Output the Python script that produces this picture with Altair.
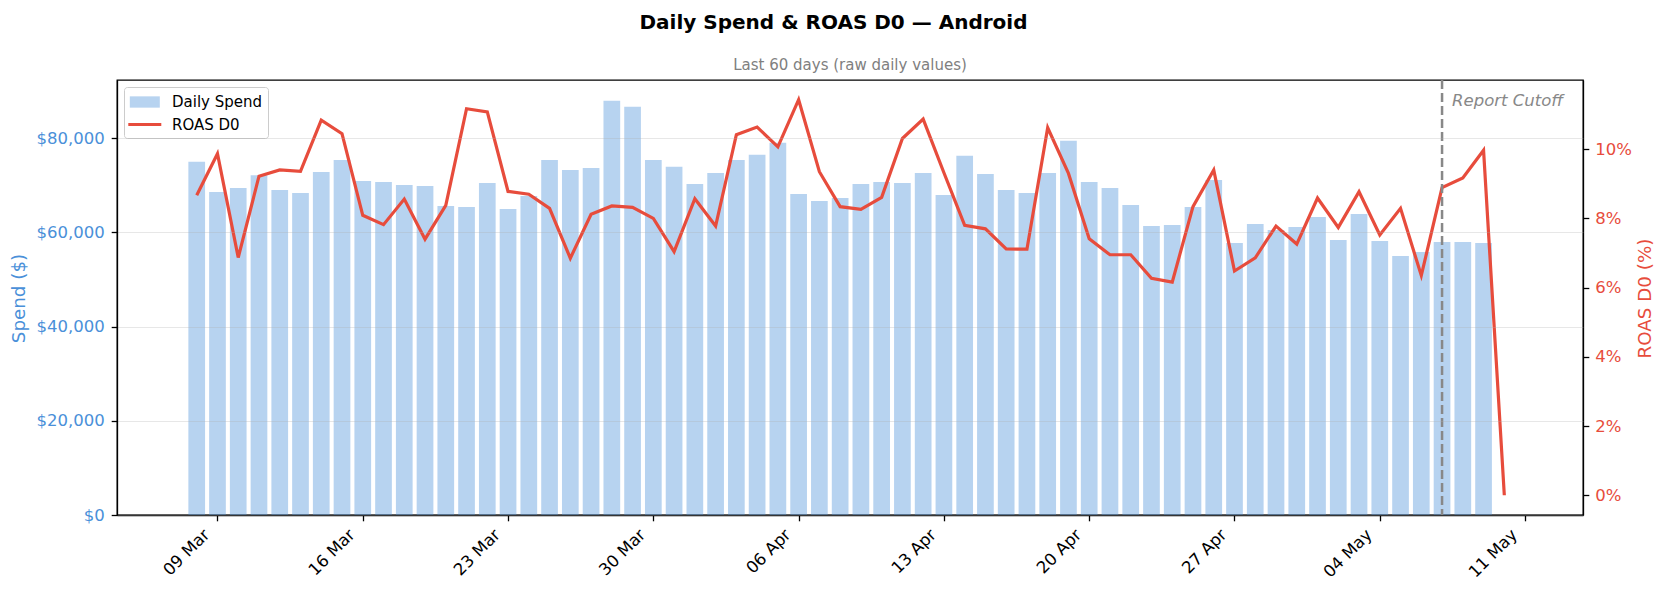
import altair as alt
import pandas as pd

# ---------------- data ----------------
START_DATE = "2025-03-08"
spend = [74960, 68580, 69430, 72130, 69000, 68360, 72830, 75380, 70920, 70700,
         70070, 69850, 65600, 65380, 70490, 64960, 67720, 75380, 73260, 73680,
         87940, 86660, 75380, 73900, 70280, 72620, 75380, 76450, 79000, 68150,
         66660, 67300, 70280, 70700, 70490, 72620, 67940, 76240, 72400, 69000,
         68360, 72620, 79430, 70700, 69430, 65810, 61340, 61550, 65380, 71130,
         57720, 61770, 60490, 61130, 63260, 58360, 63900, 58150, 54960, 55810,
         57940, 57940, 57720]
roas = [8.67, 9.87, 6.87, 9.22, 9.40, 9.36, 10.84, 10.45, 8.09, 7.82,
        8.56, 7.40, 8.38, 11.17, 11.08, 8.78, 8.70, 8.29, 6.85, 8.12,
        8.36, 8.32, 8.00, 7.04, 8.57, 7.78, 10.42, 10.64, 10.07, 11.43,
        9.35, 8.34, 8.26, 8.61, 10.31, 10.87, 9.32, 7.80, 7.70, 7.12,
        7.11, 10.62, 9.30, 7.41, 6.95, 6.95, 6.27, 6.16, 8.34, 9.40,
        6.48, 6.86, 7.78, 7.26, 8.59, 7.74, 8.77, 7.52, 8.29, 6.35,
        8.89, 9.17, 9.97, 0.0]
cutoff_date = ["2025-05-07"]
cutoff_label = ["Report Cutoff"]
series_names = ["Daily Spend", "ROAS D0"]
x_tick_dates = ["2025-03-09", "2025-03-16", "2025-03-23", "2025-03-30", "2025-04-06",
                "2025-04-13", "2025-04-20", "2025-04-27", "2025-05-04", "2025-05-11"]
spend_ticks = [0, 20000, 40000, 60000, 80000]
roas_ticks = [0, 2, 4, 6, 8, 10]

TITLE = "Daily Spend & ROAS D0 \u2014 Android"
SUBTITLE = "Last 60 days (raw daily values)"

BLUE = "#4A90D9"
RED = "#E74C3C"
FONT = "DejaVu Sans"

spend_df = pd.DataFrame({
    "date": pd.date_range(START_DATE, periods=len(spend), freq="D").strftime("%Y-%m-%d"),
    "spend": spend,
})
roas_df = pd.DataFrame({
    "date": pd.date_range(START_DATE, periods=len(roas), freq="D").strftime("%Y-%m-%d"),
    "roas": roas,
})
cut_df = pd.DataFrame({"date": cutoff_date, "label": cutoff_label})
legend_df = pd.DataFrame({"series": series_names})
sub_df = pd.DataFrame({"t": [SUBTITLE]})


def dt(s, hours=0, minutes=0):
    y, m, d = (int(v) for v in s.split("-"))
    return alt.DateTime(year=y, month=m, date=d, hours=hours, minutes=minutes, utc=True)


x_scale = alt.Scale(type="utc", domain=[dt("2025-03-04", 9, 36), dt("2025-05-13", 13, 12)])
x_axis = alt.Axis(
    values=[dt(s) for s in x_tick_dates],
    labelExpr="utcFormat(datum.value, '%d %b')",
    labelAngle=315, labelAlign="right", labelBaseline="middle",
    labelOffset=-11, labelPadding=11, labelFontSize=16.5, labelColor="black",
    labelOverlap=False, labelFlush=False,
    tickSize=5.8, tickColor="black", tickWidth=1.3,
    domainColor="black", domainWidth=1.3,
    grid=False, title=None,
)
X = alt.X("date:T", scale=x_scale, axis=x_axis)

bars = alt.Chart(spend_df).mark_bar(size=16.7, color=BLUE, opacity=0.4).encode(
    x=X,
    y=alt.Y("spend:Q",
            scale=alt.Scale(domain=[0, 92340], nice=False, zero=False),
            axis=alt.Axis(values=spend_ticks, format="$,.0f",
                          title="Spend ($)", titleColor=BLUE, titleFontSize=18.3,
                          titleFontWeight="normal", titleX=-97.5, titleY=218,
                          titleAngle=270, titleAlign="center", titleBaseline="middle",
                          labelColor=BLUE, labelFontSize=16.5, labelPadding=7,
                          tickSize=5.8, tickColor="black", tickWidth=1.3,
                          domainColor="black", domainWidth=1.3,
                          grid=True, gridColor="#b0b0b0", gridOpacity=0.3, gridWidth=1.2,
                          zindex=1)),
)

line = alt.Chart(roas_df).mark_line(color=RED, strokeWidth=3.2).encode(
    x=X,
    y=alt.Y("roas:Q",
            scale=alt.Scale(domain=[-0.57, 12.0], nice=False, zero=False),
            axis=alt.Axis(orient="right", values=roas_ticks,
                          labelExpr="datum.value + '%'",
                          title="ROAS D0 (%)", titleColor=RED, titleFontSize=18.3,
                          titleFontWeight="normal", titleX=62.7, titleY=218,
                          titleAngle=270, titleAlign="center", titleBaseline="middle",
                          labelColor=RED, labelFontSize=16.5, labelPadding=6,
                          tickSize=5.8, tickColor="black", tickWidth=1.3,
                          domainColor="black", domainWidth=1.3, grid=False)),
)

rule = alt.Chart(cut_df).mark_rule(color="#888888", strokeDash=[9, 4], strokeWidth=2.5).encode(x=X)

cut_text = alt.Chart(cut_df).mark_text(
    align="left", baseline="middle", dx=10, fontSize=16.5, fontStyle="italic",
    color="#888888", font=FONT,
).encode(x=X, y=alt.value(21), text="label:N")

subtitle = alt.Chart(sub_df).mark_text(
    fontSize=15, color="#808080", baseline="middle", font=FONT,
).encode(x=alt.value(733), y=alt.value(-15), text="t:N")

PATCH = "M-0.92,-0.565H2.08V0.565H-0.92Z"
STROKE = "M-1.07,-0.15H2.23V0.15H-1.07Z"
leg = dict(title=None, orient="top-left", offset=7, padding=5, rowPadding=4.5,
           labelOffset=23, symbolSize=400, labelFontSize=15, labelFont=FONT,
           labelColor="black", strokeColor="#cccccc", cornerRadius=3,
           fillColor="white", symbolStrokeWidth=0, symbolOpacity=1)
legend_pts = alt.Chart(legend_df).mark_point(filled=True, clip=True, size=10).encode(
    x=alt.value(-100), y=alt.value(-100),
    color=alt.Color("series:N",
                    scale=alt.Scale(domain=series_names, range=["#B7D3F0", RED]),
                    legend=alt.Legend(**leg)),
    shape=alt.Shape("series:N",
                    scale=alt.Scale(domain=series_names, range=[PATCH, STROKE]),
                    legend=alt.Legend(**leg)),
)

chart = alt.layer(bars, line, rule, cut_text, subtitle, legend_pts).resolve_scale(
    y="independent"
).properties(
    width=1466, height=435,
    padding={"left": 109, "top": 72, "right": 76, "bottom": 71},
    autosize=alt.AutoSizeParams(type="none"),
    title=alt.TitleParams(text=TITLE, fontSize=20, fontWeight="bold", font=FONT,
                          anchor="middle", dx=-16.5, offset=25, color="black"),
).configure(
    font=FONT,
).configure_view(
    stroke="black", strokeWidth=1.3,
).configure_axis(
    labelFont=FONT, titleFont=FONT,
)

chart.save("out.html", embed_options={"renderer": "svg", "actions": False})
